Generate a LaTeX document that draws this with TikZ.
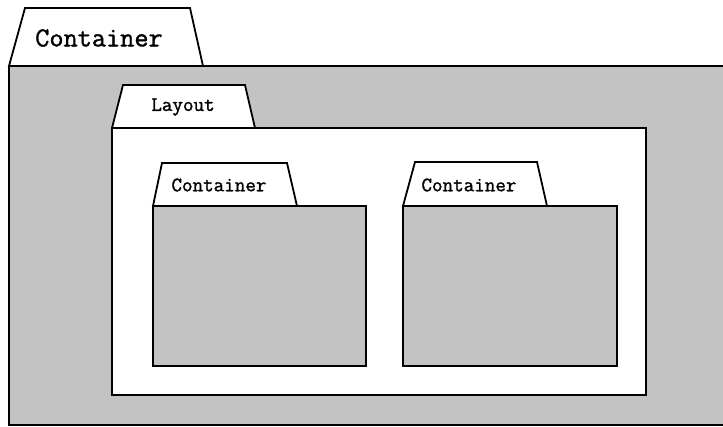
\documentclass[tikz,border=0pt]{standalone}
\usepackage{fontspec}
\newfontfamily\tabfont[FakeBold=1.3]{Latin Modern Mono}
\definecolor{boxgray}{HTML}{C3C3C3}
\tikzset{
  frame/.style={draw=black, line width=1.8pt, line join=miter},
  graybox/.style={frame, fill=boxgray},
  whitebox/.style={frame, fill=white},
  bigtab/.style={font=\tabfont\fontsize{27.5}{32}\selectfont, inner sep=0pt},
  smalltab/.style={font=\tabfont\fontsize{20.5}{24}\selectfont, inner sep=0pt},
}
\begin{document}
\begin{tikzpicture}[x=1pt,y=-1pt]
\useasboundingbox (0,0) rectangle (723,426);
\clip (0,0) rectangle (723,426);
% outer container
\draw[graybox] (9,66) rectangle (740,425);
\draw[whitebox] (9,66) -- (25,8) -- (190,8) -- (203,66) -- cycle;
\node[bigtab] (outerlbl) at (99,38) {Container};
% layout
\draw[whitebox] (112,128) rectangle (646,395);
\draw[whitebox] (112,128) -- (123,85) -- (245,85) -- (255,128) -- cycle;
\node[smalltab] (layoutlbl) at (183,107) {Layout};
% inner left container
\draw[graybox] (153,206) rectangle (366,366);
\draw[whitebox] (153,206) -- (162,163) -- (287,163) -- (297,206) -- cycle;
\node[smalltab] (leftlbl) at (219,185) {Container};
% inner right container
\draw[graybox] (403,206) rectangle (617,366);
\draw[whitebox] (403,206) -- (415,162) -- (537,162) -- (547,206) -- cycle;
\node[smalltab] (rightlbl) at (469,185) {Container};
\end{tikzpicture}
\end{document}
